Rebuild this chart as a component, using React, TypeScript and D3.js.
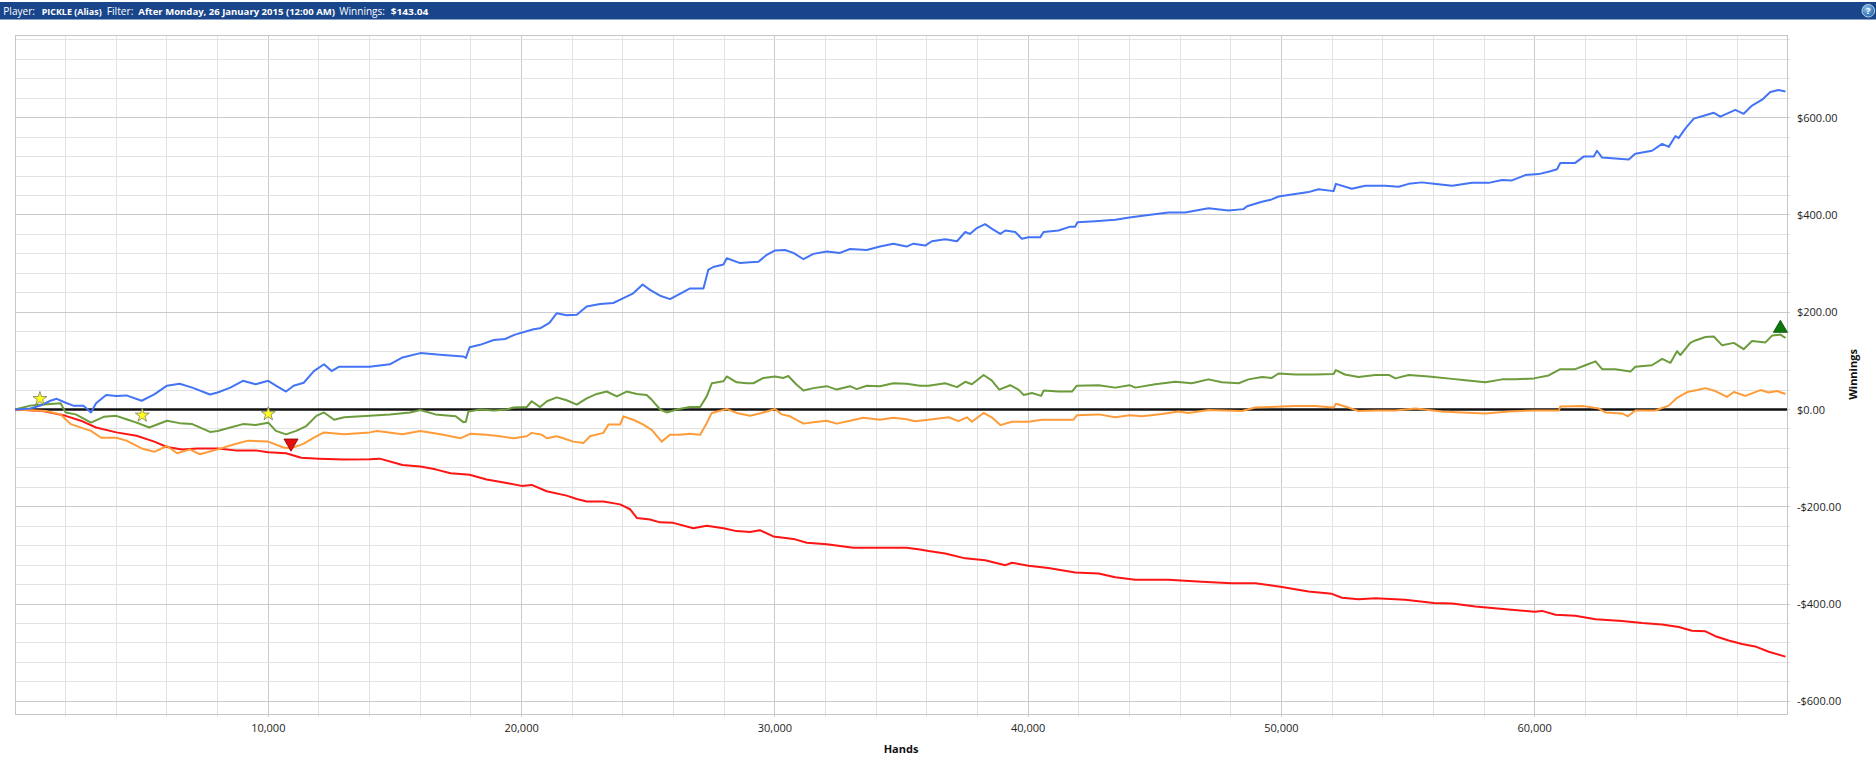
import * as d3 from "d3";

// series points: [hands, winnings]
const handsMax = 69960;

const allIn: [number, number][] = [
  [0, 0], [600, 2], [1000, 8], [1400, 18], [1650, 22], [2000, 14], [2300, 8], [2700, 8], [3000, -6], [3200, 13],
  [3600, 30], [4000, 28], [4400, 29], [5000, 18], [5500, 31], [6000, 49], [6500, 53], [7000, 45], [7700, 31], [8000, 35],
  [8500, 45], [9000, 59], [9500, 52], [10000, 59], [10300, 49], [10700, 37], [11000, 49], [11400, 55], [11800, 79], [12200, 93],
  [12500, 79], [12800, 88], [14000, 88], [14800, 93], [15300, 107], [16000, 116], [16900, 112], [17700, 109], [17800, 106], [17950, 128],
  [18360, 133], [18900, 143], [19350, 145], [19740, 154], [20200, 161], [20470, 165], [20730, 167], [21100, 178], [21390, 198], [21780, 194],
  [22180, 195], [22570, 212], [23100, 217], [23620, 219], [24020, 229], [24410, 239], [24780, 257], [25070, 246], [25470, 234], [25860, 227],
  [26250, 238], [26650, 249], [27180, 249], [27370, 287], [27570, 293], [27970, 298], [28100, 311], [28630, 301], [29020, 303], [29350, 304],
  [29680, 318], [30010, 327], [30400, 328], [30730, 322], [31130, 309], [31520, 320], [32050, 325], [32570, 322], [32970, 330], [33630, 328],
  [34150, 335], [34680, 341], [35200, 335], [35470, 341], [35935, 337], [36200, 346], [36725, 350], [37190, 346], [37515, 365], [37700, 361],
  [37975, 373], [38300, 381], [38560, 372], [38900, 361], [39100, 368], [39490, 365], [39750, 351], [40015, 354], [40475, 354], [40610, 365],
  [41200, 368], [41660, 376], [41850, 376], [41950, 385], [42650, 387], [43440, 390], [44000, 395], [44750, 400], [45540, 405], [46200, 405],
  [47120, 414], [47910, 409], [48500, 412], [48640, 418], [49230, 427], [49620, 432], [49885, 438], [50410, 442], [51070, 447], [51460, 453],
  [52060, 449], [52150, 464], [52780, 454], [53310, 460], [54100, 460], [54630, 458], [55025, 464], [55550, 467], [56010, 464], [56740, 460],
  [57530, 466], [58180, 466], [58710, 472], [59100, 471], [59630, 482], [60160, 484], [60620, 490], [60880, 494], [61010, 507], [61600, 507],
  [61930, 520], [62330, 520], [62460, 532], [62660, 518], [63180, 516], [63710, 514], [63970, 526], [64630, 532], [65030, 546], [65290, 540],
  [65550, 562], [65680, 558], [65950, 578], [66280, 598], [66740, 605], [67070, 610], [67330, 602], [67920, 616], [68250, 608], [68580, 625],
  [68980, 637], [69300, 653], [69630, 657], [69900, 654],
];

const total: [number, number][] = [
  [0, 0], [600, 8], [1000, 10], [1800, 13], [2000, -6], [2400, -10], [3000, -27], [3500, -15], [4000, -13], [4400, -20],
  [4800, -27], [5300, -37], [6000, -23], [6500, -28], [7000, -30], [7700, -46], [8000, -44], [8500, -37], [9000, -30], [9500, -32],
  [10000, -27], [10300, -44], [10700, -51], [11100, -44], [11500, -34], [11900, -13], [12200, -6], [12600, -21], [13000, -16], [14000, -13],
  [14800, -10], [15600, -6], [16000, -1], [16600, -10], [17400, -14], [17700, -26], [17800, -25], [17900, -4], [18360, 0], [18900, -2],
  [19410, 0], [19680, 4], [20200, 5], [20400, 17], [20730, 5], [21000, 17], [21390, 25], [21780, 19], [22180, 10], [22570, 23],
  [22970, 32], [23360, 37], [23760, 27], [24150, 37], [24550, 32], [24940, 30], [25140, 20], [25470, 0], [25730, -6], [26120, 0],
  [26650, 5], [27050, 5], [27310, 27], [27510, 54], [27970, 58], [28100, 68], [28490, 56], [28890, 54], [29150, 54], [29550, 65],
  [30010, 68], [30340, 65], [30530, 69], [30860, 51], [31130, 39], [31520, 44], [32050, 48], [32440, 41], [32970, 48], [33230, 42],
  [33630, 49], [34150, 48], [34680, 54], [35200, 53], [35730, 49], [36070, 49], [36725, 54], [37190, 46], [37515, 57], [37780, 52],
  [38240, 71], [38560, 60], [38860, 41], [39290, 50], [39620, 41], [39820, 30], [40150, 34], [40515, 28], [40610, 39], [41200, 37],
  [41730, 37], [41920, 49], [42780, 50], [43440, 45], [44000, 50], [44230, 45], [45020, 52], [45810, 57], [46460, 54], [47120, 62],
  [47650, 56], [48310, 54], [48700, 62], [49230, 67], [49620, 65], [49885, 74], [50540, 72], [51330, 72], [52060, 73], [52150, 81],
  [52500, 72], [53040, 67], [53710, 71], [54240, 71], [54500, 64], [55025, 71], [55815, 68], [56740, 63], [57260, 60], [58050, 56],
  [58710, 62], [59240, 62], [59960, 64], [60550, 70], [61010, 83], [61600, 83], [62000, 91], [62400, 99], [62660, 83], [63180, 83],
  [63780, 78], [63970, 88], [64630, 91], [65030, 104], [65360, 96], [65620, 120], [65750, 112], [66140, 137], [66340, 142], [66740, 149],
  [67070, 150], [67400, 132], [67860, 137], [68250, 124], [68580, 141], [69110, 138], [69370, 152], [69700, 154], [69900, 147],
];

const showdown: [number, number][] = [
  [0, 0], [1200, -3], [1800, -10], [2000, -20], [2200, -30], [3000, -44], [3400, -58], [4000, -58], [4400, -64], [5000, -80],
  [5500, -87], [6000, -75], [6400, -90], [6900, -82], [7300, -92], [8000, -82], [8700, -71], [9200, -64], [10000, -66], [10600, -78],
  [10900, -80], [11400, -70], [11800, -58], [12200, -47], [13000, -51], [14000, -47], [14300, -44], [15300, -51], [16000, -44], [16800, -51],
  [17600, -59], [17970, -50], [18620, -52], [19150, -55], [19680, -59], [20200, -55], [20400, -48], [20800, -52], [21000, -59], [21390, -55],
  [21650, -59], [22040, -66], [22440, -69], [22700, -55], [23230, -48], [23430, -31], [23890, -31], [24020, -14], [24410, -21], [24810, -31],
  [25140, -42], [25530, -66], [25860, -52], [26250, -52], [26650, -50], [27050, -52], [27310, -28], [27510, -7], [28100, 1], [28490, -7],
  [29020, -13], [29480, -7], [30010, 1], [30270, -10], [30600, -14], [31130, -29], [31520, -26], [32050, -23], [32440, -29], [32970, -23],
  [33490, -17], [34150, -21], [34680, -17], [35200, -20], [35540, -24], [36070, -21], [36860, -16], [37250, -24], [37580, -16], [37780, -25],
  [38240, -7], [38560, -16], [38900, -32], [39360, -25], [40015, -25], [40540, -21], [41200, -21], [41790, -21], [41920, -12], [42780, -10],
  [43440, -16], [44000, -12], [44490, -14], [45280, -9], [45940, -4], [46330, -7], [47120, -1], [48440, -3], [48970, 4], [50020, 6],
  [50540, 7], [51330, 7], [52060, 4], [52150, 12], [52650, 4], [53040, -3], [53710, -2], [54500, -2], [55290, 2], [56340, -4],
  [57130, -6], [58050, -8], [58970, -4], [59960, -2], [60950, -2], [61010, 6], [61930, 7], [62530, 2], [62790, -6], [63450, -8],
  [63680, -14], [63970, -2], [64760, -2], [65290, 8], [65620, 24], [66020, 36], [66410, 40], [66740, 44], [67130, 38], [67590, 26],
  [67860, 36], [68320, 28], [68910, 40], [69240, 35], [69570, 38], [69900, 32],
];

const rake: [number, number][] = [
  [0, 0], [1100, -3], [2000, -13], [2600, -23], [3200, -37], [4000, -47], [4800, -54], [5500, -66], [6000, -77], [6600, -82],
  [7200, -80], [8000, -80], [8700, -84], [9500, -84], [10000, -88], [10700, -90], [11300, -99], [12000, -101], [13000, -103], [14000, -102],
  [14400, -101], [15300, -114], [16000, -117], [16600, -123], [17200, -131], [17950, -134], [18620, -144], [19410, -151], [20000, -157], [20400, -155],
  [20990, -168], [21780, -177], [22180, -184], [22570, -189], [23230, -189], [23890, -195], [24280, -205], [24550, -223], [25070, -226], [25470, -232],
  [25990, -233], [26780, -244], [27310, -239], [27970, -244], [28490, -250], [29020, -252], [29410, -248], [29940, -261], [30730, -266], [31260, -274],
  [32050, -277], [33100, -284], [34150, -284], [35200, -284], [35730, -288], [36070, -291], [36725, -296], [37515, -306], [38300, -310], [39100, -320],
  [39360, -315], [40015, -321], [40800, -326], [41860, -335], [42780, -337], [43440, -345], [44230, -350], [45540, -350], [46860, -354], [48040, -357],
  [48970, -357], [50020, -365], [51070, -374], [51990, -379], [52390, -387], [53040, -390], [53710, -388], [54890, -391], [56010, -398], [56740, -399],
  [57660, -405], [58970, -411], [60000, -416], [60290, -414], [60820, -422], [61600, -424], [62400, -431], [63450, -435], [64240, -439], [65030, -442],
  [65690, -447], [66210, -455], [66740, -456], [67130, -466], [67660, -475], [68180, -482], [68700, -487], [69240, -498], [69900, -508],
];

const milestones: [number, number][] = [[983, 22], [5025, -12], [10000, -9]];
const lowPoint: [number, number] = [10897, -69];
const highPoint: [number, number] = [69700, 167];

const yTickValues = [600, 400, 200, 0, -200, -400, -600];
const xTickValues = [10000, 20000, 30000, 40000, 50000, 60000];

// header pieces: text, bold?
const headerParts: [string, boolean][] = [
  ["Player:", false],
  ["PICKLE (Alias)", true],
  ["Filter:", false],
  ["After Monday, 26 January 2015 (12:00 AM)", true],
  ["Winnings:", false],
  ["$143.04", true],
];
const headerX = [3.3, 41.7, 106.7, 138.3, 339.3, 390.7];
const headerW = [31.7, 60, 26.7, 196.7, 45.7, 37.7];

const series = [
  { data: rake, color: "#ff1414" },
  { data: showdown, color: "#ff9c3a" },
  { data: total, color: "#6c9c3c" },
  { data: allIn, color: "#4474f6" },
];

const W = 1876;
const H = 759;
const L = 15, T = 35, R = 1787, B = 714;

export default function App() {
  const x = d3.scaleLinear().domain([0, handsMax]).range([L, R]);
  const y = d3.scaleLinear().domain([-626, 770]).range([B, T]);

  const line = d3
    .line<[number, number]>()
    .x((d) => x(d[0]))
    .y((d) => y(d[1]));

  const vGrid = d3.range(2000, handsMax, 2000);
  const hGrid = d3.range(-600, 770, 40);

  const star = d3.symbol().type(d3.symbolStar).size(60)();
  const tri = d3.symbol().type(d3.symbolTriangle).size(86)();

  const money = (v: number) => (v < 0 ? `-$${Math.abs(v).toFixed(2)}` : `$${v.toFixed(2)}`);
  const font = "'Open Sans', 'Noto Sans', sans-serif";

  return (
    <div>
      <style>{"body{margin:0;background:#fff}"}</style>
      <svg width={W} height={H} style={{ display: "block" }} fontFamily={font}>
        <defs>
          <radialGradient id="help" cx="40%" cy="35%" r="70%">
            <stop offset="0%" stopColor="#8fc2ef" />
            <stop offset="100%" stopColor="#1c5fa8" />
          </radialGradient>
        </defs>

        {/* header bar */}
        <rect x={0} y={2} width={W} height={17.5} fill="#19458b" />
        {headerParts.map(([t, bold], i) => (
          <text
            key={i}
            x={headerX[i]}
            y={14.5}
            fill="#fff"
            fontSize={bold ? 9.3 : 10}
            fontWeight={bold ? "bold" : "normal"}
            textLength={headerW[i]}
            lengthAdjust="spacingAndGlyphs"
          >
            {t}
          </text>
        ))}
        <circle cx={1868.3} cy={10.7} r={6.3} fill="url(#help)" stroke="#e0ecf8" strokeWidth={0.8} />
        <text x={1868.3} y={14.3} fontSize={9.5} fontWeight="bold" fill="#fff" textAnchor="middle">?</text>

        {/* grid */}
        <g shapeRendering="crispEdges">
          {vGrid.map((h) => (
            <line
              key={"v" + h}
              x1={x(h)}
              x2={x(h)}
              y1={T}
              y2={B + 3}
              stroke={h % 10000 === 0 ? "#cbcbcb" : "#e3e3e3"}
            />
          ))}
          {hGrid.map((v) => (
            <line
              key={"h" + v}
              x1={L}
              x2={R + 3}
              y1={y(v)}
              y2={y(v)}
              stroke={v % 200 === 0 ? "#cbcbcb" : "#e3e3e3"}
            />
          ))}
          <rect x={L} y={T} width={R - L} height={B - T} fill="none" stroke="#c6c6c6" />
        </g>

        {/* zero line */}
        <line x1={L} x2={R} y1={y(0)} y2={y(0)} stroke="#111" strokeWidth={2.5} />

        {/* series */}
        {series.map((s, i) => (
          <path
            key={i}
            d={line(s.data) ?? ""}
            fill="none"
            stroke={s.color}
            strokeWidth={2}
            strokeLinejoin="round"
          />
        ))}

        {/* markers */}
        {milestones.map((m, i) => (
          <path
            key={"s" + i}
            d={star ?? ""}
            transform={`translate(${x(m[0])},${y(m[1])})`}
            fill="#ffff1a"
            stroke="#7a7a6a"
            strokeWidth={0.8}
          />
        ))}
        <path
          d={tri ?? ""}
          transform={`translate(${x(lowPoint[0])},${y(lowPoint[1])}) rotate(180)`}
          fill="#e50f0f"
          stroke="#8a0000"
          strokeWidth={0.8}
        />
        <path
          d={tri ?? ""}
          transform={`translate(${x(highPoint[0])},${y(highPoint[1])})`}
          fill="#0b780b"
          stroke="#0a4f0a"
          strokeWidth={0.8}
        />

        {/* y axis labels */}
        <g fontSize={11} fill="#1e1e1e">
          {yTickValues.map((v) => (
            <text key={v} x={1797} y={y(v) + 4}>
              {money(v)}
            </text>
          ))}
        </g>

        {/* x axis labels */}
        <g fontSize={11} fill="#1e1e1e" textAnchor="middle">
          {xTickValues.map((h) => (
            <text key={h} x={x(h)} y={731.5}>
              {d3.format(",")(h)}
            </text>
          ))}
        </g>

        <text x={(L + R) / 2} y={753} fontSize={11} fontWeight="bold" textAnchor="middle" fill="#111">
          Hands
        </text>
        <text
          transform={`translate(1857,${(T + B) / 2}) rotate(-90)`}
          fontSize={11}
          fontWeight="bold"
          textAnchor="middle"
          fill="#111"
        >
          Winnings
        </text>
      </svg>
    </div>
  );
}
